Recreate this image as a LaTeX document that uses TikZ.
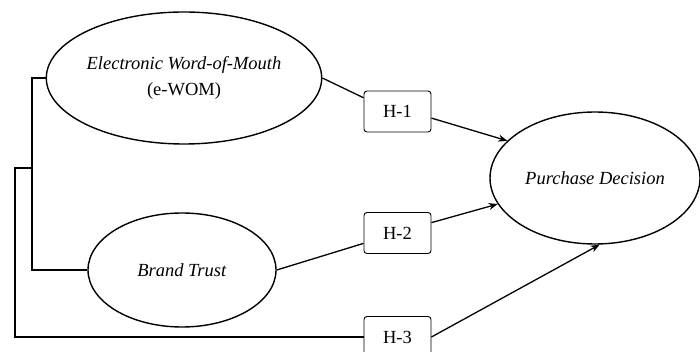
\documentclass[tikz,border=0pt]{standalone}
\usepackage{fontspec}
\setmainfont{Liberation Serif}
\usetikzlibrary{shapes.geometric,arrows.meta}
\begin{document}
\begin{tikzpicture}[x=1pt,y=-1pt,
  every node/.style={font=\fontsize{18.5}{26}\selectfont},
  latent/.style={ellipse,draw,line width=1.4pt,inner sep=0pt,align=center},
  hyp/.style={rectangle,draw,line width=0.9pt,rounded corners=3pt,minimum width=67pt,minimum height=41pt,inner sep=0pt},
  link/.style={line width=1.3pt},
  arr/.style={line width=1.3pt,-{Stealth[length=9pt,width=7pt]}}]
\useasboundingbox (0,0) rectangle (700,352);
\node[latent,minimum width=222pt,minimum height=132pt] (ewom) at (184,78) {\textit{Electronic Word-of-Mouth}\\(e-WOM)};
\node[latent,minimum width=188pt,minimum height=114pt] (bt) at (182,270) {\textit{Brand Trust}};
\node[latent,minimum width=210pt,minimum height=132pt] (pd) at (595,178) {\textit{Purchase Decision}};
\node[hyp] (h1) at (397.5,111.5) {H-1};
\node[hyp] (h2) at (397.5,233) {H-2};
\node[hyp] (h3) at (397.5,337) {H-3};
\coordinate (j1) at (32,270);
\coordinate (j2) at (32,168);
\coordinate (j3) at (15,337);
\draw[link] (ewom.west) -| (j1) -- (bt.west);
\draw[link] (j2) -| (j3) -- (h3.west);
\draw[link] (ewom.east) -- (h1.158);
\draw[link] (bt.east) -- (h2.-163);
\draw[arr] (h1.-11) -- (pd.157);
\draw[arr] (h2.17) -- (pd.-165);
\draw[arr] (h3.east) -- (pd.-86);
\end{tikzpicture}
\end{document}
